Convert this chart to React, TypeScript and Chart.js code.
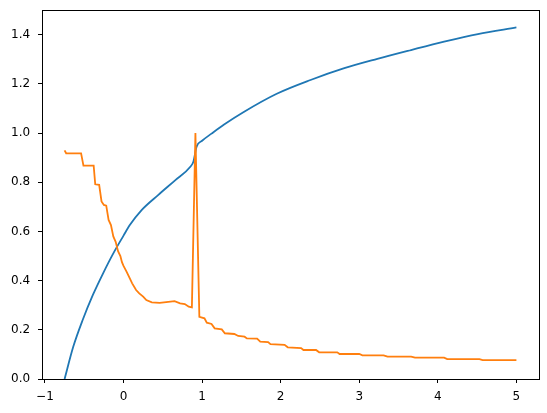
import React, { useEffect, useRef } from 'react';
import { Chart, registerables } from 'chart.js';

Chart.register(...registerables);

// Blue series (smooth rising curve)
const blueX = [-0.75, -0.64, -0.52, -0.39, -0.26, -0.13, 0.0, 0.08, 0.23, 0.44, 0.66, 0.85, 0.89, 0.93, 1.0, 1.12, 1.28, 1.53, 1.95, 2.38, 2.81, 3.23, 3.66, 4.08, 4.51, 5.0];
const blueY = [0.0, 0.131, 0.24, 0.342, 0.43, 0.511, 0.583, 0.626, 0.687, 0.748, 0.809, 0.863, 0.885, 0.945, 0.969, 0.998, 1.035, 1.086, 1.16, 1.216, 1.264, 1.302, 1.338, 1.372, 1.403, 1.43];

// Orange series (stepped decreasing curve with a spike)
const orangeX = [
  -0.75, -0.73, -0.54, -0.51, -0.38, -0.36, -0.31, -0.28, -0.25, -0.22,
  -0.19, -0.16, -0.13, -0.1, -0.07, -0.04, -0.02, 0.0, 0.04, 0.08,
  0.11, 0.16, 0.2, 0.25, 0.29, 0.36, 0.46, 0.57, 0.65, 0.72,
  0.78, 0.83, 0.87, 0.915, 0.965, 1.03, 1.06, 1.12, 1.16, 1.25,
  1.29, 1.41, 1.46, 1.54, 1.57, 1.7, 1.74, 1.84, 1.87, 2.05,
  2.09, 2.26, 2.29, 2.45, 2.49, 2.72, 2.75, 3.0, 3.04, 3.31,
  3.36, 3.66, 3.71, 4.08, 4.12, 4.53, 4.57, 5.0,
];
const orangeY = [
  0.93, 0.918, 0.918, 0.868, 0.868, 0.792, 0.79, 0.722, 0.708, 0.705,
  0.647, 0.626, 0.58, 0.558, 0.52, 0.5, 0.475, 0.46, 0.436, 0.409,
  0.389, 0.362, 0.348, 0.335, 0.321, 0.312, 0.31, 0.314, 0.317, 0.308,
  0.305, 0.294, 0.291, 1.0, 0.253, 0.247, 0.229, 0.224, 0.206, 0.202,
  0.186, 0.183, 0.175, 0.172, 0.165, 0.164, 0.152, 0.15, 0.142, 0.139,
  0.129, 0.126, 0.118, 0.118, 0.1085, 0.1085, 0.1017, 0.1017, 0.0964, 0.0964,
  0.0907, 0.0907, 0.087, 0.087, 0.081, 0.081, 0.077, 0.077,
];

const xTicks = [-1, 0, 1, 2, 3, 4, 5];
const yTicks = [0, 0.2, 0.4, 0.6, 0.8, 1.0, 1.2, 1.4];

const X_MIN = -1.0375;
const X_MAX = 5.2875;
const Y_MIN = 0;
const Y_MAX = 1.5;

export default function App() {
  const ref = useRef<HTMLCanvasElement>(null);

  useEffect(() => {
    document.body.style.margin = '0';
    const canvas = ref.current;
    if (!canvas) return;

    const framePlugin = {
      id: 'frame',
      afterDatasetsDraw(chart: any) {
        const { ctx, chartArea: a } = chart;
        ctx.save();
        ctx.strokeStyle = '#000';
        ctx.lineWidth = 1;
        ctx.strokeRect(
          Math.round(a.left) + 0.5,
          Math.round(a.top) + 0.5,
          Math.round(a.right - a.left),
          Math.round(a.bottom - a.top)
        );
        ctx.restore();
      },
    };

    const fmtX = (v: number) => (v < 0 ? '\u2212' + Math.abs(v) : String(v));

    const chart = new Chart(canvas, {
      type: 'line',
      data: {
        datasets: [
          {
            label: 'blue',
            data: blueX.map((x, i) => ({ x, y: blueY[i] })),
            borderColor: '#1f77b4',
            borderWidth: 1.8,
            pointRadius: 0,
            cubicInterpolationMode: 'monotone',
            fill: false,
            order: 1,
          },
          {
            label: 'orange',
            data: orangeX.map((x, i) => ({ x, y: orangeY[i] })),
            borderColor: '#ff7f0e',
            borderWidth: 1.8,
            pointRadius: 0,
            tension: 0,
            fill: false,
            order: 0,
          },
        ],
      },
      options: {
        animation: false,
        responsive: false,
        devicePixelRatio: 1,
        layout: { padding: { left: 11, top: 10, right: 8, bottom: 0 } },
        plugins: {
          legend: { display: false },
          tooltip: { enabled: false },
        },
        scales: {
          x: {
            type: 'linear',
            min: X_MIN,
            max: X_MAX,
            afterBuildTicks: (scale: any) => {
              scale.ticks = xTicks.map((v) => ({ value: v }));
            },
            afterFit: (scale: any) => {
              scale.height = 34;
            },
            border: { display: true, color: '#000', width: 1 },
            grid: { display: true, drawOnChartArea: false, drawTicks: true, tickLength: 4, tickColor: '#000' },
            ticks: {
              color: '#000',
              font: { family: 'DejaVu Sans', size: 12 },
              padding: 7,
              maxRotation: 0,
              autoSkip: false,
              callback: (v: any) => fmtX(Number(v)),
            },
          },
          y: {
            type: 'linear',
            min: Y_MIN,
            max: Y_MAX,
            afterBuildTicks: (scale: any) => {
              scale.ticks = yTicks.map((v) => ({ value: v }));
            },
            afterFit: (scale: any) => {
              scale.width = 31;
            },
            border: { display: true, color: '#000', width: 1 },
            grid: { display: true, drawOnChartArea: false, drawTicks: true, tickLength: 4, tickColor: '#000' },
            ticks: {
              color: '#000',
              font: { family: 'DejaVu Sans', size: 12 },
              padding: 3,
              crossAlign: 'far',
              autoSkip: false,
              callback: (v: any) => Number(v).toFixed(1),
            },
          },
        },
      },
      plugins: [framePlugin],
    });

    return () => chart.destroy();
  }, []);

  return (
    <div style={{ width: 547, height: 413 }}>
      <canvas ref={ref} width={547} height={413} style={{ display: 'block' }} />
    </div>
  );
}
